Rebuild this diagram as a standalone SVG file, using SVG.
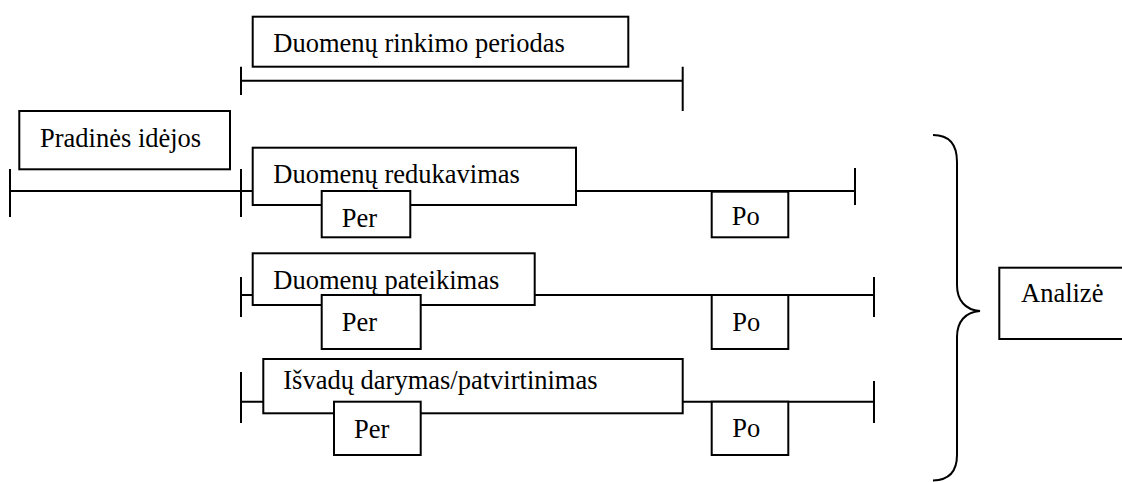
<svg xmlns="http://www.w3.org/2000/svg" width="1122" height="482" viewBox="0 0 1122 482">
<style>
.bx{fill:#fff;stroke:#000;stroke-width:2}
.ln{fill:none;stroke:#000;stroke-width:2}
.t{font-family:'Liberation Serif','DejaVu Serif',serif;font-size:26.5px;fill:#000}
</style>
<rect width="1122" height="482" fill="#fff"/>
<g id="connectors">
<path class="ln" d="M241 80.7H682.7M241 66.7V95M682.7 66.7V111"/>
<path class="ln" d="M10 191H855M10 169V217M241 169V217M855 168V205"/>
<path class="ln" d="M241 295H874M241 277V317M874 277V317"/>
<path class="ln" d="M241 401.7H874M241 372V423M874 381V423"/>
<path class="ln" d="M933 135C950 135 957 145 957 162V285C957 300 965 310 980 311C965 312 957 322 957 337V455C957 470 950 480 933 480.5"/>
</g>
<g class="t" font-family="Liberation Serif, DejaVu Serif, serif">
<g id="n-rinkimas"><rect class="bx" x="252.7" y="16.7" width="375.6" height="50"/><text x="273.3" y="52.3">Duomenų rinkimo periodas</text></g>
<g id="n-pradines"><rect class="bx" x="19.3" y="111" width="210.7" height="58.3"/><text x="40" y="146.7">Pradinės idėjos</text></g>
<g id="n-redukavimas"><rect class="bx" x="252.7" y="147.7" width="323.3" height="57.3"/><text x="273.3" y="182.7">Duomenų redukavimas</text></g>
<g id="n-per1"><rect class="bx" x="321.7" y="191" width="88.6" height="46.3"/><text x="341.7" y="226.7">Per</text></g>
<g id="n-po1"><rect class="bx" x="711.7" y="191.7" width="76.6" height="45.6"/><text x="731.7" y="225">Po</text></g>
<g id="n-pateikimas"><rect class="bx" x="252.7" y="253.3" width="282" height="51.7"/><text x="273.3" y="289.3">Duomenų pateikimas</text></g>
<g id="n-per2"><rect class="bx" x="321.7" y="295" width="99" height="54"/><text x="341.7" y="331">Per</text></g>
<g id="n-po2"><rect class="bx" x="711.7" y="295" width="76.6" height="54"/><text x="732.3" y="331">Po</text></g>
<g id="n-isvadu"><rect class="bx" x="263.3" y="359" width="419.4" height="54.3"/><text x="283.3" y="389.3">Išvadų darymas/patvirtinimas</text></g>
<g id="n-per3"><rect class="bx" x="334" y="401.7" width="86.7" height="53.3"/><text x="354" y="438.3">Per</text></g>
<g id="n-po3"><rect class="bx" x="711.7" y="401.7" width="76.6" height="53.3"/><text x="732.3" y="436.7">Po</text></g>
<g id="n-analize"><rect class="bx" x="999.3" y="267.7" width="140" height="71.3"/><text x="1021" y="301.7">Analizė</text></g>
</g>
</svg>
